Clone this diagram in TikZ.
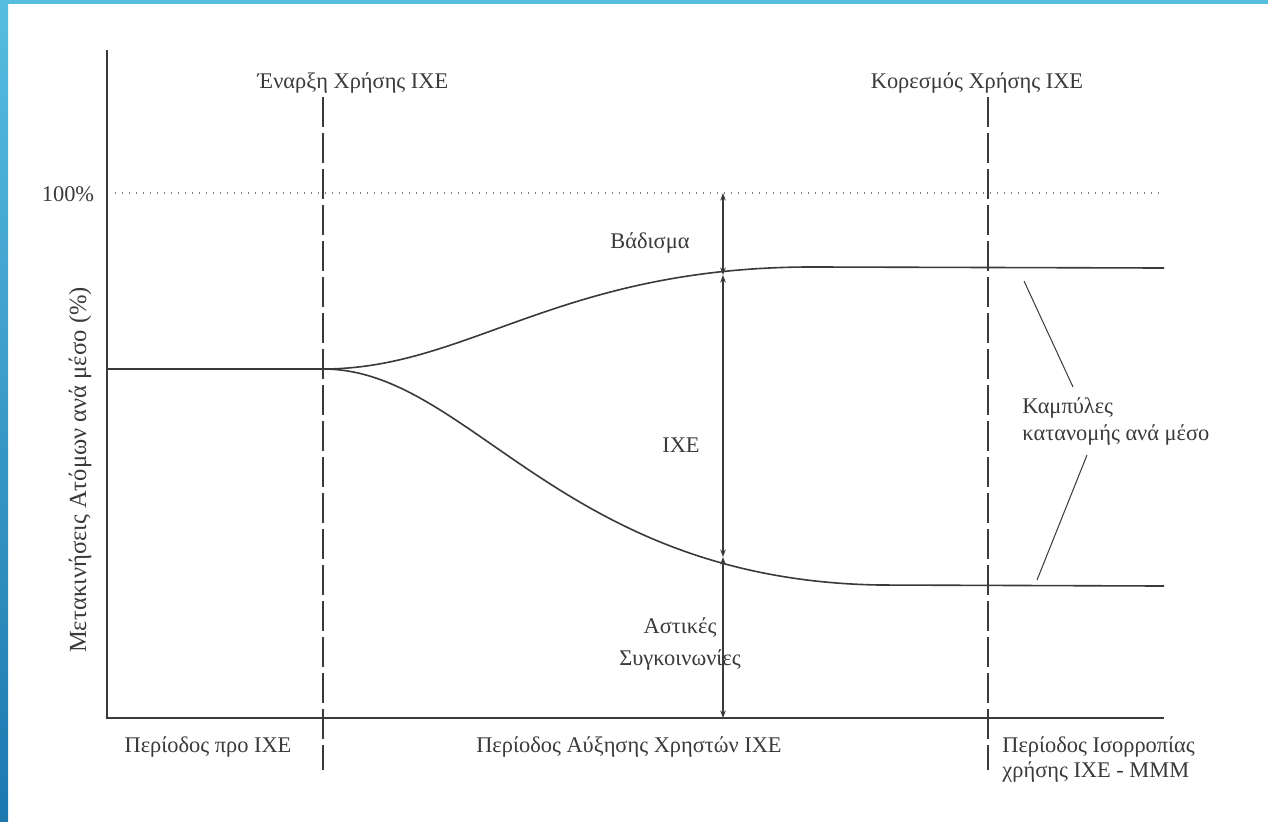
\documentclass[tikz,border=0pt]{standalone}
\usepackage{fontspec}
\setmainfont{Liberation Serif}
\usetikzlibrary{arrows.meta}
\definecolor{frameblue}{HTML}{55BDE0}
\definecolor{framedark}{HTML}{1D78B0}
\definecolor{ink}{HTML}{3A3A3A}
\begin{document}
\begin{tikzpicture}[x=0.5pt,y=-0.5pt,
    every node/.style={font=\fontsize{11.2}{12.5}\selectfont,text=ink,inner sep=0pt},
    curve/.style={ink,line width=0.8pt},
    period/.style={ink,line width=0.65pt,dash pattern=on 15pt off 3pt},
    share/.style={ink,line width=0.55pt,{Stealth[length=3.8pt,width=2.8pt]}-{Stealth[length=3.8pt,width=2.8pt]}}]
  \useasboundingbox (0,0) rectangle (1268,821);
  \fill[white] (0,0) rectangle (1268,821);
  \fill[frameblue] (0,0) rectangle (1268,4);
  \shade[top color=frameblue,bottom color=framedark] (0,0) rectangle (8,821);

  % axes
  \coordinate (origin) at (107,718);
  \draw[curve] (107,50) -- (origin) -- (1164,718);
  \draw[gray,line width=0.7pt,dash pattern=on 0.6pt off 2.9pt] (115,193) -- (1164,193);
  \node (full) at (68,194) {100\%};
  \node[rotate=90,font=\fontsize{12.3}{14}\selectfont] (ylab) at (80,470) {Μετακινήσεις Ατόμων ανά μέσο (\%)};

  % period boundaries
  \draw[period] (323,97) -- (323,770);
  \draw[period] (988,97) -- (988,770);
  \node (start) at (353,83) {Έναρξη Χρήσης ΙΧΕ};
  \node (sat) at (977,83) {Κορεσμός Χρήσης ΙΧΕ};

  % distribution curves
  \draw[curve] (107,369) -- (323,369) .. controls (470,369) and (560,265) .. (820,267) -- (1164,268);
  \draw[curve] (323,369) .. controls (470,369) and (560,580) .. (880,585) -- (1164,586);

  % shares at one moment
  \coordinate (top) at (723,193);
  \coordinate (walk) at (723,275);
  \coordinate (car) at (723,557);
  \coordinate (base) at (723,718);
  \draw[share] (top) -- (walk);
  \draw[share] (walk) -- (car);
  \draw[share] (car) -- (base);
  \node (walking) at (650,243) {Βάδισμα};
  \node (ixe) at (681,445) {ΙΧΕ};
  \node[align=center,font=\fontsize{11.2}{16}\selectfont] (bus) at (680,644) {Αστικές\\Συγκοινωνίες};

  % curve label
  \node[align=left,anchor=west,font=\fontsize{11.2}{13.5}\selectfont] (curves) at (1022,421) {Καμπύλες\\κατανομής ανά μέσο};
  \coordinate (upper) at (1024,281);
  \coordinate (lower) at (1037,580);
  \draw[ink,line width=0.5pt] (upper) -- (1073,387);
  \draw[ink,line width=0.5pt] (1087,455) -- (lower);

  % periods
  \node (pre) at (208,747) {Περίοδος προ ΙΧΕ};
  \node (growth) at (629,747) {Περίοδος Αύξησης Χρηστών ΙΧΕ};
  \node[align=left,anchor=west] (balance) at (1002,759) {Περίοδος Ισορροπίας\\χρήσης ΙΧΕ - ΜΜΜ};
\end{tikzpicture}
\end{document}
